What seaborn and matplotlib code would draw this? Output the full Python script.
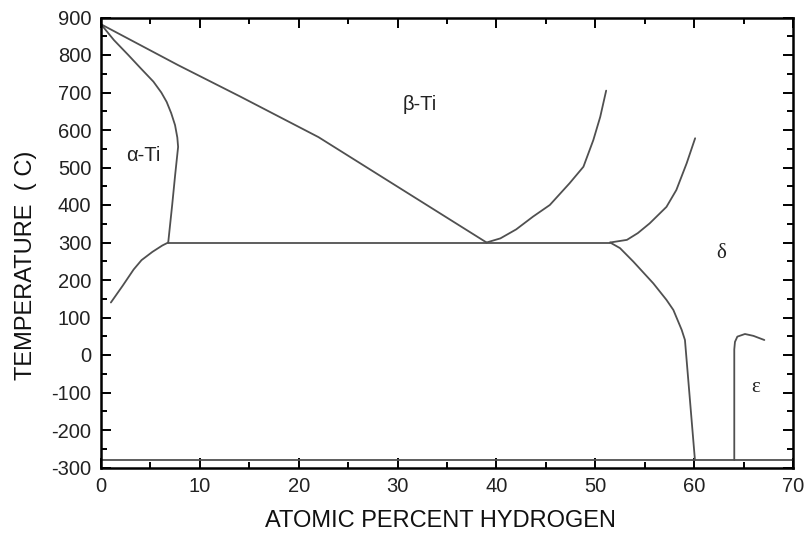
import numpy as np
import pandas as pd
import matplotlib
matplotlib.use("Agg")
import matplotlib.pyplot as plt
from matplotlib.ticker import MultipleLocator
import seaborn as sns

# Phase boundaries of the Ti-H system: (atomic % H, temperature in C)
beta_transus_x = [0.0, 7.8, 14.1, 22.0, 39.0]
beta_transus_t = [882, 773, 689, 581, 300]

alpha_transus_x = [0.0, 1.3, 2.76, 4.0, 5.3, 6.1, 6.64, 7.1, 7.49, 7.72, 7.8, 7.5, 7.2, 6.8]
alpha_transus_t = [882, 840, 800, 765, 729, 700, 675, 645, 613, 580, 555, 480, 400, 300]

alpha_solvus_x = [1.0, 2.2, 3.3, 4.1, 5.2, 6.2, 6.8]
alpha_solvus_t = [140, 185, 228, 253, 275, 292, 300]

eutectoid_x = [6.8, 39.0, 51.5]
eutectoid_t = [300, 300, 300]

beta_delta_x = [39.0, 40.4, 42.0, 43.7, 45.4, 47.4, 48.8, 49.8, 50.5, 51.1]
beta_delta_t = [300, 311, 335, 369, 400, 458, 502, 573, 635, 705]

delta_beta_x = [51.5, 53.2, 54.3, 55.5, 57.2, 58.2, 59.24, 60.1]
delta_beta_t = [300, 307, 325, 351, 395, 440, 511, 578]

delta_solvus_x = [51.5, 52.5, 53.85, 55.87, 57.2, 57.9, 58.74, 59.07, 60.08]
delta_solvus_t = [300, 285, 249, 191, 147, 120, 67, 40, -280]

epsilon_x = [64.06, 64.06, 64.13, 64.37, 65.14, 66.0, 67.1]
epsilon_t = [-280, 15, 35, 49, 56, 51, 40]

base_x = [0.0, 70.0]
base_t = [-280, -280]

curves = {
    "beta_transus": (beta_transus_x, beta_transus_t),
    "alpha_transus": (alpha_transus_x, alpha_transus_t),
    "alpha_solvus": (alpha_solvus_x, alpha_solvus_t),
    "eutectoid": (eutectoid_x, eutectoid_t),
    "beta_delta": (beta_delta_x, beta_delta_t),
    "delta_beta": (delta_beta_x, delta_beta_t),
    "delta_solvus": (delta_solvus_x, delta_solvus_t),
    "epsilon": (epsilon_x, epsilon_t),
    "base": (base_x, base_t),
}

frames = []
for name, (xs, ts) in curves.items():
    frames.append(pd.DataFrame({"H": xs, "T": ts, "curve": name,
                                "order": np.arange(len(xs))}))
df = pd.concat(frames, ignore_index=True)

sns.set_style("white")
plt.rcParams["font.family"] = ["Liberation Sans", "DejaVu Sans"]
plt.rcParams["axes.unicode_minus"] = False

fig = plt.figure(figsize=(8.06, 5.42), dpi=100)
ax = fig.add_axes([101 / 806, 1 - 467.5 / 542, 692 / 806, 450 / 542])

sns.lineplot(data=df, x="H", y="T", units="curve", estimator=None, sort=False,
             color="#505050", linewidth=1.3, ax=ax, legend=False)

ax.set_xlim(0, 70)
ax.set_ylim(-300, 900)
ax.xaxis.set_major_locator(MultipleLocator(10))
ax.xaxis.set_minor_locator(MultipleLocator(5))
ax.yaxis.set_major_locator(MultipleLocator(100))
ax.yaxis.set_minor_locator(MultipleLocator(50))
ax.tick_params(which="both", direction="in", top=True, right=True,
               bottom=True, left=True, color="black", width=1.4)
ax.tick_params(which="major", length=7.5, labelsize=14.5, pad=7, labelcolor="#222222")
ax.tick_params(which="minor", length=4.5)
for sp in ax.spines.values():
    sp.set_color("black")
    sp.set_linewidth(1.8)

ax.set_xlabel("ATOMIC PERCENT HYDROGEN", fontsize=17, color="#111111")
ax.set_ylabel("TEMPERATURE  ( C)", fontsize=17, color="#111111")
ax.xaxis.set_label_coords(0.49, -0.094)
ax.yaxis.set_label_coords(-0.093, 0.45)

ax.text(4.25, 533, "α-Ti", fontsize=14.5, ha="center", va="center", color="#222222")
ax.text(32.2, 667, "β-Ti", fontsize=14.5, ha="center", va="center", color="#222222")
ax.text(62.7, 272, "δ", fontsize=15, ha="center", va="center", color="#222222",
        family=["Liberation Serif", "DejaVu Serif"])
ax.text(66.25, -87, "ε", fontsize=15, ha="center", va="center", color="#222222",
        family=["Liberation Serif", "DejaVu Serif"])

fig.savefig("out.png", dpi=100)
